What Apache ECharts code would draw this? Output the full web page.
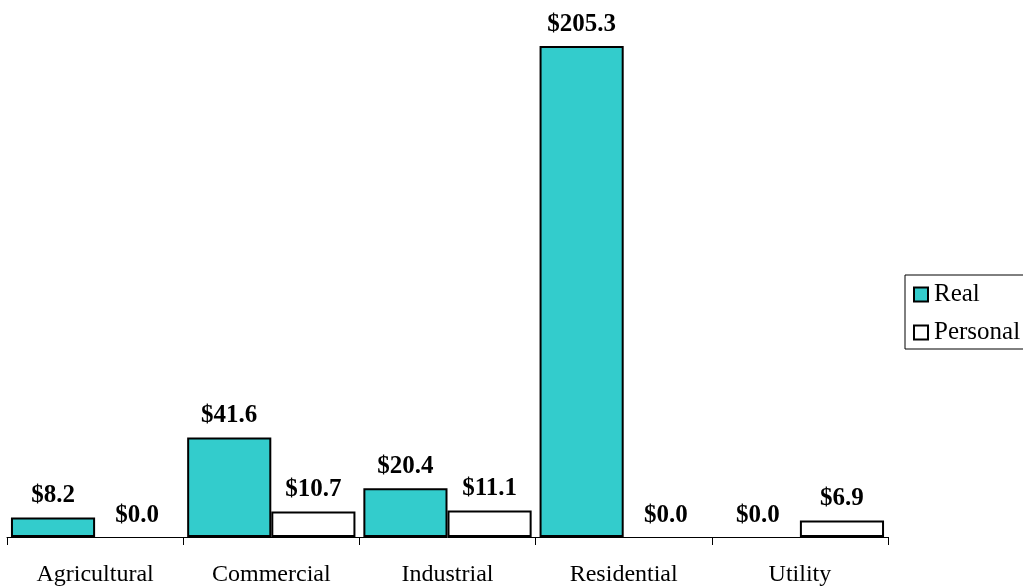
<!DOCTYPE html>
<html><head><meta charset="utf-8">
<script src="https://cdn.jsdelivr.net/npm/echarts@6/dist/echarts.min.js"></script>
<style>html,body{margin:0;padding:0;background:#fff}#c{width:1023px;height:588px}</style>
</head><body><div id="c"></div>
<script>
const categories = ['Agricultural','Commercial','Industrial','Residential','Utility'];
const realValues = [8.2, 41.6, 20.4, 205.3, 0.0];
const personalValues = [0.0, 10.7, 11.1, 0.0, 6.9];
const seriesNames = ['Real','Personal'];

const font = '"Liberation Serif", "Times New Roman", serif';
const labelCfg = {
  show: true, position: 'top', distance: 9,
  fontFamily: font, fontSize: 25, fontWeight: 'bold', color: '#000',
  formatter: p => '$' + p.value.toFixed(1)
};
const toData = arr => arr.map(v => v === 0 ? {value: v, itemStyle: {borderWidth: 0, borderColor: 'rgba(0,0,0,0)', color: 'rgba(0,0,0,0)'}} : v);
const chart = echarts.init(document.getElementById('c'), null, {renderer:'canvas'});
chart.setOption({
  animation: false,
  backgroundColor: '#fff',
  grid: {left: 7, right: 135, top: 46, bottom: 51, containLabel: false, outerBoundsMode: 'none'},
  legend: {
    orient: 'vertical', left: 905, top: 275,
    padding: [7, 30, 4, 8], itemGap: 13,
    icon: 'rect',
    itemWidth: 14, itemHeight: 14, itemStyle: {borderColor: '#000', borderWidth: 2},
    borderColor: '#000', borderWidth: 1,
    textStyle: {fontFamily: font, fontSize: 25, color: '#000', padding: [0,0,0,1]},
    data: seriesNames
  },
  xAxis: {
    type: 'category', data: categories,
    axisLine: {lineStyle: {color: '#000', width: 1}},
    axisTick: {show: true, length: 8, inside: false, lineStyle: {color: '#000'}},
    axisLabel: {fontFamily: font, fontSize: 24, color: '#000', margin: 26}
  },
  yAxis: {type: 'value', min: 0, max: 205.3, show: false, splitLine: {show: false}},
  series: [
    {name: seriesNames[0], type: 'bar', data: toData(realValues), barGap: '0%', barCategoryGap: '4.5%',
     itemStyle: {color: '#33CCCC', borderColor: '#000', borderWidth: 2}, label: labelCfg},
    {name: seriesNames[1], type: 'bar', data: toData(personalValues),
     itemStyle: {color: '#fff', borderColor: '#000', borderWidth: 2}, label: labelCfg}
  ]
});
</script></body></html>
